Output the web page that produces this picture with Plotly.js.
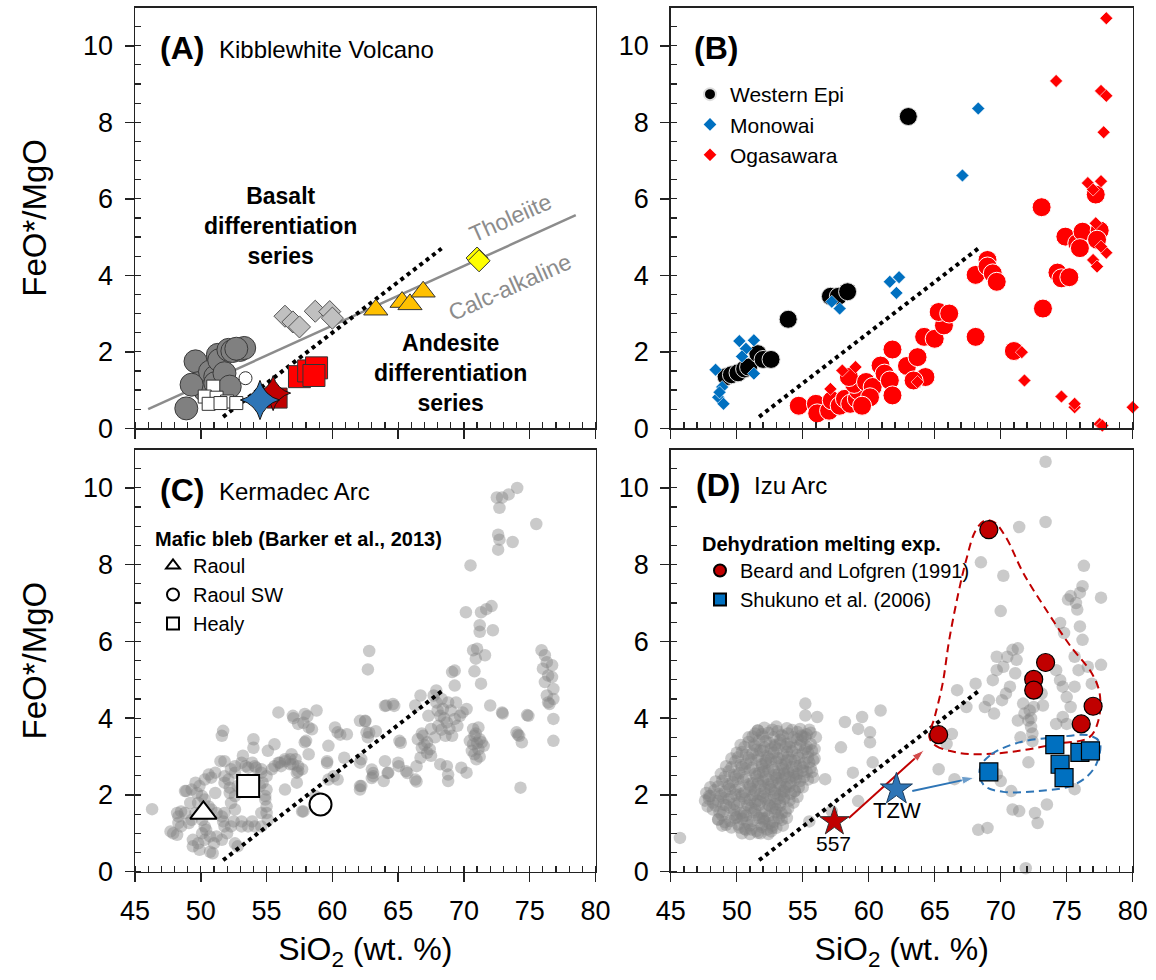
<!DOCTYPE html>
<html><head><meta charset="utf-8">
<script src="https://cdn.plot.ly/plotly-3.0.1.min.js"></script>
<style>body{margin:0;background:#fff}</style>
</head><body><div id="chart" style="width:1156px;height:980px"></div>
<script>
// ---------------- DATA ----------------
const xRange = [45, 80];
const yRange = [0, 11];
const xTitle = 'SiO<sub>2</sub> (wt. %)';
const yTitle = 'FeO*/MgO';

// Tholeiite / calc-alkaline boundary (panel A)
const tholX = [46.0, 78.5];
const tholY = [0.50, 5.57];
// dotted reference line (all panels)
const dotX = [51.7, 68.3];
const dotY = [0.30, 4.70];

// Panel A: Kibblewhite
const kibGrayCircles = [[48.9,0.52],[49.6,1.75],[49.8,1.18],[50.3,1.0],[50.7,1.48],[49.3,1.14],[51.1,1.35],[51.1,1.18],[51.3,1.92],[51.4,1.78],[51.8,1.44],[52.2,1.09],[52.1,2.05],[52.4,2.02],[53.0,2.05],[53.3,2.1],[52.7,2.08]];
const kibGrayDiamonds = [[56.4,2.93],[57.0,2.78],[57.5,2.65],[58.7,3.06],[59.8,3.05],[60.0,2.88]];
const kibTriangles = [[63.3,3.10],[65.3,3.30],[65.9,3.24],[66.9,3.57]];
const kibYellow = [[71.0,4.45],[71.15,4.38]];
const kibRedSquares = [[57.5,1.35],[58.2,1.5],[58.8,1.58],[58.6,1.38]];
const kibDarkRedSquare = [[55.8,0.79]];
const kibWhiteSquares = [[50.95,1.09],[50.3,0.83],[51.2,0.8],[52.0,0.7],[52.7,0.66],[50.6,0.64],[51.5,0.66]];
const kibOpenCircle = [[53.4,1.31]];
const kibRedStar = [[55.5,0.92]];
const kibBlueStar = [[54.5,0.74]];

// Panel B
const westernEpi = [[49.2,1.35],[49.6,1.4],[50.1,1.45],[50.6,1.55],[50.9,1.6],[51.6,1.95],[52.0,1.8],[52.6,1.8],[53.9,2.85],[57.1,3.45],[57.7,3.45],[58.4,3.57],[63.0,8.15]];
const monowai = [[48.4,1.53],[48.9,1.08],[48.6,0.81],[49.0,0.64],[48.7,0.94],[50.2,2.28],[51.3,2.30],[50.7,2.08],[50.4,1.88],[51.3,1.43],[57.2,3.31],[57.8,3.13],[61.6,3.83],[62.3,3.95],[62.1,3.54],[67.1,6.61],[68.3,8.36]];
const ogaCircles = [[54.7,0.59],[56.0,0.64],[56.1,0.39],[57.0,0.46],[57.2,0.73],[57.8,0.59],[58.2,0.77],[58.6,0.64],[59.1,0.77],[59.2,0.99],[58.9,1.16],[58.5,1.34],[59.8,1.21],[60.3,1.08],[60.9,1.64],[61.2,1.43],[61.6,1.25],[61.8,0.86],[61.8,2.06],[60.1,0.81],[59.5,0.59],[62.9,1.63],[63.7,1.86],[64.3,1.34],[63.4,1.25],[64.2,2.39],[65.0,2.34],[65.7,2.69],[65.3,3.04],[66.1,3.0],[68.1,2.39],[68.1,4.01],[69.0,4.40],[69.0,4.23],[69.4,4.05],[69.7,3.83],[71.0,2.02],[73.1,5.78],[73.2,3.13],[74.3,4.07],[74.6,3.92],[75.2,3.95],[74.9,5.01],[75.8,4.84],[76.2,5.14],[76.0,4.71],[77.2,6.11],[77.5,5.17],[77.3,4.93]];
const ogaDiamonds = [[78.0,10.72],[74.2,9.08],[77.6,8.82],[78.0,8.69],[77.8,7.74],[76.6,6.41],[77.6,6.46],[77.0,6.24],[77.2,5.36],[77.0,4.40],[77.3,4.23],[78.0,4.59],[77.6,4.75],[71.6,1.99],[71.8,1.25],[74.6,0.83],[75.6,0.55],[75.6,0.64],[77.5,0.11],[77.7,0.07],[80.0,0.55],[57.1,1.03],[58.0,1.51],[59.0,1.60],[63.7,1.21]];

// Panel C: Kermadec arc
const kermadecGray = [[46.3,1.63],[47.9,1.0],[47.7,1.05],[48.2,0.96],[48.5,1.57],[48.3,1.27],[48.9,2.1],[49.3,2.14],[49.7,2.05],[49.9,2.23],[49.2,1.79],[49.4,0.83],[50.1,1.0],[50.4,1.09],[50.7,0.52],[51.0,0.74],[51.2,0.92],[50.6,2.53],[51.1,2.58],[51.5,2.88],[51.7,3.67],[51.6,3.54],[51.8,2.88],[52.1,2.40],[52.2,2.19],[52.3,1.79],[51.8,1.53],[51.7,1.31],[52.5,1.31],[52.8,0.66],[52.6,1.62],[52.6,2.58],[53.2,3.02],[53.6,2.71],[54.0,3.45],[54.0,3.23],[54.1,2.75],[54.6,2.67],[54.7,2.32],[54.9,1.97],[55.0,1.70],[54.6,1.53],[53.9,1.31],[53.1,1.31],[55.6,3.32],[55.1,3.15],[55.9,2.84],[55.9,4.15],[56.1,2.75],[56.4,2.88],[56.8,2.80],[57.2,2.93],[57.4,2.62],[56.9,3.06],[56.4,2.14],[57.3,2.32],[57.0,4.06],[57.4,3.85],[57.9,4.11],[58.2,3.76],[58.8,4.2],[57.9,3.37],[58.0,3.41],[58.2,3.06],[57.7,1.57],[58.7,1.97],[59.7,3.28],[59.6,2.88],[60.2,3.76],[60.4,3.63],[61.1,3.58],[60.9,2.97],[60.1,2.49],[62.1,3.93],[62.2,2.93],[62.1,2.23],[62.8,5.75],[62.7,5.27],
[48.8,2.10],[49.6,2.32],[50.3,2.40],[50.8,2.45],[51.1,2.05],[51.8,2.49],[52.3,2.67],[52.6,2.75],[53.1,2.84],[53.4,2.75],[53.9,2.84],[54.2,2.71],[54.6,2.58],[55.0,2.49],[55.4,2.67],[55.6,2.75],[56.0,2.84],[56.4,2.93],[56.8,2.93],[57.0,2.80],[57.4,2.75],[57.7,2.67],[57.3,2.58],[51.8,2.32],[52.2,2.05],[52.6,1.97],[52.8,2.23],[53.4,2.23],[53.7,2.32],[54.1,2.40],[54.5,2.23],[55.0,2.14],[54.9,1.88],[55.0,1.53],[55.1,1.35],[54.6,1.18],[54.1,1.18],[53.6,1.18],[53.1,1.18],[52.3,1.18],[51.8,1.18],[51.6,1.44],[51.2,1.53],[50.8,1.62],[50.6,1.70],[50.3,1.88],[50.1,1.97],[49.8,1.79],[49.6,1.53],[49.3,1.35],[49.1,1.27],[48.5,1.18],[48.3,1.44],[48.2,1.53],[48.8,1.53],[50.1,1.35],[50.3,1.18],[50.7,0.92],[50.3,0.83],[49.8,0.74],[49.4,0.66],[49.9,0.57],[50.9,0.48],[51.6,0.83],[52.6,0.74],[52.0,1.0],
[57.05,4.0],[58.1,4.05],[57.8,3.88],[58.45,3.71],[60.6,3.57],[64.0,4.32],[64.7,4.32],[62.5,3.92],[63.3,3.66],[62.8,3.62],[65.2,3.36],[64.0,2.88],[65.05,2.75],[63.1,2.57],[62.1,2.14],[63.0,2.44],[64.2,2.57],[65.7,2.57],[66.4,2.35],[60.4,2.4],[59.6,2.83],[59.7,2.4],[57.8,1.57],
[72.5,9.75],[72.9,9.75],[72.7,9.48],[73.4,9.83],[74.05,10.0],[75.5,9.06],[72.6,8.78],[72.7,8.65],[72.6,8.39],[73.7,8.59],[70.5,7.98],[70.15,6.76],[71.3,6.76],[71.7,6.84],[72.1,6.92],[71.2,6.42],[71.2,6.25],[72.2,6.29],[70.7,5.77],[71.0,5.81],[71.6,5.64],[70.9,5.55],[69.3,5.24],[69.1,5.20],[70.8,5.22],[69.3,4.85],[71.3,4.90],[72.0,4.33],[72.9,4.15],[72.95,4.12],[74.8,4.08],[74.9,4.06],[74.0,3.63],[74.1,3.57],[74.2,3.54],[74.4,3.37],[74.3,2.19],[68.2,2.80],[68.7,2.75],[68.8,2.36],[68.8,2.53],[69.8,2.71],[70.2,2.58],[66.4,2.75],[66.7,2.97],[67.9,4.72],[66.7,4.59],[66.3,4.33],[64.6,4.37],[64.1,4.33],[65.1,3.41],[65.0,2.84],[65.6,2.62],[66.3,2.40],[64.25,2.58],[63.9,2.36],[63.1,2.49],[63.0,2.66],[62.5,3.93],[62.6,3.63],[62.7,3.50],[62.1,2.84],[62.2,2.23],
[66.5,3.45],[66.9,3.54],[67.2,3.37],[67.4,3.19],[67.2,3.10],[66.8,3.23],[67.5,3.02],[67.9,4.41],[68.3,4.50],[68.4,4.24],[68.2,4.06],[68.7,3.89],[68.9,3.72],[69.3,3.98],[69.7,4.06],[69.9,4.15],[70.2,4.24],[69.4,4.41],[68.8,4.41],[68.05,3.80],[68.6,3.54],[69.1,3.54],[67.7,4.59],[67.3,4.06],[67.5,3.72],[68.0,4.2],[68.5,4.0],[69.0,4.2],[68.3,3.7],[67.8,3.5],[69.5,3.8],[67.0,3.3],[66.8,3.6],
[70.7,3.72],[71.1,3.76],[70.8,3.54],[71.2,3.45],[70.7,3.32],[71.1,3.19],[71.35,3.37],[70.8,3.06],[70.95,2.93],[71.5,3.28],[70.45,3.41],[70.9,3.6],[71.0,3.35],[70.6,3.15],[71.2,3.0],
[75.9,5.77],[76.15,5.64],[76.3,5.46],[76.7,5.38],[76.0,5.29],[76.4,5.11],[76.7,5.07],[76.15,4.94],[76.8,4.76],[76.3,4.59],[76.4,4.41],[76.8,4.50],[76.5,4.37],[76.8,3.98],[76.8,3.41]];
const raoul = [[50.2,1.53]];
const raoulSW = [[59.1,1.75]];
const healy = [[53.6,2.23]];

// Panel D: Izu arc (scattered samples)
const izuGray = [[45.7,0.88],[47.9,1.97],[48.6,1.36],[49.0,1.75],[49.9,2.01],[49.9,1.40],[50.7,1.09],[51.6,1.01],[51.6,3.68],[52.1,1.31],[52.7,1.14],[53.5,2.10],[54.4,2.10],[55.2,4.38],[55.2,4.07],[56.1,4.03],[55.2,3.50],[57.9,3.24],[58.2,3.90],[59.2,3.72],[60.1,3.63],[59.5,4.03],[60.9,4.20],[60.1,3.37],[55.8,2.45],[56.7,2.41],[58.8,2.58],[60.3,2.85],[59.2,1.84],[55.5,1.31],[57.2,1.58],[65.9,3.33],[65.3,2.67],[66.5,2.41],[66.3,3.59],[66.7,4.73],[67.4,4.29],[68.1,4.90],[68.5,8.06],[70.2,7.71],[70.0,6.79],[69.7,5.60],[69.7,5.25],[69.4,4.99],[69.1,4.47],[68.8,4.29],[69.5,4.12],[70.1,4.47],[70.4,4.64],[70.7,4.82],[71.1,5.17],[71.3,5.82],[71.4,8.98],[73.4,10.68],[73.4,9.11],[71.9,0.09],[72.1,2.85],[71.5,3.50],[71.3,3.94],[70.9,1.62],[71.4,1.58],[68.3,1.09],[69.0,1.14],[72.6,1.53],[72.8,1.27],[73.5,1.75],[71.7,4.38],[71.8,4.12],[72.1,3.94],[72.3,3.77],[72.5,4.29],[73.1,4.64],[73.2,4.33],[74.2,5.25],[74.5,4.99],[74.7,4.82],[75.0,4.55],[75.3,4.29],[74.7,4.03],[74.2,3.85],[75.6,4.82],[75.9,5.25],[74.5,6.48],[74.8,6.22],[75.1,7.09],[75.3,7.18],[75.7,7.00],[75.8,6.83],[76.0,7.27],[76.2,7.44],[76.3,7.97],[76.0,6.39],[76.2,6.04],[75.6,5.60],[76.6,5.34],[77.6,7.14],[77.6,5.39],[76.9,4.90],[75.6,2.15],[75.0,3.85],[70.0,2.36],[69.7,2.54],[70.8,2.10],[70.2,5.34],[70.5,5.60],[70.9,5.78],[71.2,5.52],[72.3,4.0],[72.4,3.6],[72.2,4.2],[72.4,3.4]];
// Panel D: dense basalt-andesite cluster (read as best as possible)
const izuCluster = [[51.6,3.68],[52.4,3.62],[53.1,3.66],[53.9,3.6],[54.6,3.64],[55.3,3.58],[50.9,3.38],[51.7,3.42],[52.5,3.35],[53.3,3.44],[54.1,3.37],[54.9,3.41],[55.6,3.33],[50.4,3.12],[51.2,3.08],[52.0,3.15],[52.8,3.1],[53.5,3.05],[54.2,3.14],[55.0,3.09],[55.7,3.16],[49.9,2.88],[50.7,2.82],[51.5,2.9],[52.2,2.84],[53.0,2.87],[53.7,2.81],[54.4,2.89],[55.1,2.83],[55.8,2.9],[49.4,2.62],[50.2,2.57],[51.0,2.64],[51.7,2.58],[52.4,2.63],[53.2,2.56],[53.9,2.61],[54.6,2.55],[55.3,2.6],[48.9,2.37],[49.7,2.33],[50.5,2.38],[51.2,2.31],[52.0,2.36],[52.7,2.34],[53.4,2.39],[54.1,2.32],[54.8,2.36],[48.3,2.12],[49.1,2.08],[49.9,2.13],[50.6,2.07],[51.4,2.11],[52.1,2.06],[52.9,2.12],[53.6,2.09],[54.4,2.1],[47.9,1.9],[48.6,1.84],[49.4,1.88],[50.2,1.82],[51.0,1.87],[51.8,1.83],[52.5,1.86],[53.3,1.8],[54.0,1.85],[48.2,1.62],[49.0,1.57],[49.8,1.6],[50.6,1.55],[51.4,1.61],[52.2,1.58],[53.0,1.63],[53.7,1.56],[48.6,1.36],[49.5,1.32],[50.4,1.38],[51.2,1.33],[52.0,1.37],[52.8,1.3],[53.4,1.35],[50.6,1.12],[51.5,1.06],[52.3,1.1],[53.0,1.14],
[51.2,3.52],[52.0,3.52],[52.8,3.5],[53.5,3.53],[54.3,3.5],[55.0,3.52],[50.6,3.25],[51.4,3.27],[52.1,3.24],[52.9,3.26],[53.7,3.25],[54.5,3.23],[55.3,3.26],[50.1,2.98],[50.9,2.97],[51.6,3.0],[52.4,2.98],[53.2,2.96],[53.9,2.99],[54.7,2.97],[55.4,2.98],[49.6,2.72],[50.4,2.73],[51.2,2.71],[51.9,2.74],[52.7,2.72],[53.5,2.7],[54.2,2.73],[55.0,2.72],[55.6,2.7],[49.1,2.47],[49.9,2.48],[50.7,2.46],[51.5,2.49],[52.2,2.47],[53.0,2.45],[53.7,2.48],[54.5,2.46],[55.1,2.47],[48.6,2.22],[49.4,2.23],[50.2,2.21],[51.0,2.22],[51.8,2.24],[52.5,2.21],[53.3,2.23],[54.0,2.22],[54.7,2.2],[48.0,1.97],[48.8,1.98],[49.6,1.96],[50.4,1.97],[51.2,1.99],[52.0,1.96],[52.8,1.97],[53.6,1.95],[48.4,1.72],[49.2,1.73],[50.0,1.71],[50.9,1.72],[51.7,1.74],[52.5,1.71],[53.3,1.72],[48.9,1.47],[49.8,1.48],[50.7,1.46],[51.5,1.47],[52.4,1.45],[53.1,1.48],[49.2,1.22],[50.1,1.23],[51.0,1.21],[51.9,1.22],[52.7,1.2],
[51.9,3.58],[52.7,3.7],[53.4,3.56],[54.2,3.69],[54.9,3.55],[55.6,3.62],[51.3,3.31],[52.2,3.4],[52.9,3.3],[53.8,3.33],[54.6,3.45],[55.2,3.2],[50.7,3.05],[51.5,3.18],[52.3,3.02],[53.1,3.2],[53.8,3.12],[54.6,3.04],[55.4,3.11],[50.3,2.78],[51.1,2.92],[51.9,2.79],[52.6,2.93],[53.4,2.78],[54.1,2.92],[54.8,2.77],[55.5,2.85],[49.8,2.52],[50.6,2.68],[51.4,2.55],[52.1,2.68],[52.9,2.52],[53.6,2.66],[54.3,2.5],[55.0,2.63],[49.3,2.28],[50.1,2.42],[50.9,2.27],[51.6,2.4],[52.4,2.27],[53.1,2.43],[53.8,2.27],[54.5,2.41],[48.7,2.03],[49.5,2.16],[50.3,2.02],[51.1,2.16],[51.8,2.02],[52.6,2.15],[53.3,2.0],[54.1,2.03],[48.2,1.8],[49.0,1.92],[49.8,1.77],[50.6,1.91],[51.4,1.78],[52.2,1.9],[52.9,1.76],[53.6,1.9],[48.7,1.55],[49.5,1.67],[50.3,1.52],[51.1,1.66],[51.9,1.52],[52.7,1.66],[53.4,1.52],[49.1,1.29],[50.0,1.42],[50.8,1.28],[51.7,1.4],[52.5,1.26],[53.2,1.4],[50.2,1.15],[51.1,1.1],[51.9,1.16],[52.6,1.05],
[50.3,3.3],[50.9,3.5],[51.4,3.6],[52.1,3.75],[53.0,3.78],[53.8,3.74],[54.8,3.72],[55.5,3.7],[56.0,3.5],[55.9,3.2],[55.9,2.95],[50.0,3.1],[49.6,2.95],[49.2,2.75],[48.8,2.55],[48.4,2.35],[48.0,2.2],[47.7,2.05],[47.6,1.85],[47.8,1.7],[53.9,1.65],[54.3,1.8],[54.6,1.95],[55.0,2.2],[55.4,2.4],[55.7,2.6],[51.8,3.15],[52.6,3.2],[53.3,3.35],[54.0,3.25],[54.8,3.3],[52.2,2.9],[53.1,2.95],[53.8,2.9],[54.5,2.75],[52.0,2.6],[52.8,2.65],[53.6,2.55],[54.3,2.6],[51.6,2.3],[52.4,2.4],[53.2,2.3],[54.0,2.45],[51.3,2.0],[52.1,2.15],[52.9,2.05],[53.7,2.2],[50.8,1.75],[51.6,1.85],[52.4,1.75],[53.1,1.9],[50.5,1.45],[51.3,1.55],[52.1,1.4],[52.9,1.55],[50.4,1.0],[51.0,0.98],[51.8,1.0],[52.4,0.98],[49.6,1.15],[48.9,1.2],[53.5,1.2],[53.8,1.4]];
const beardLofgren = [[69.1,8.91],[65.3,3.57],[72.5,5.01],[72.5,4.73],[73.4,5.45],[76.1,3.85],[77.0,4.31]];
const shukuno = [[69.1,2.60],[74.1,3.31],[74.5,2.80],[74.8,2.45],[76.0,3.11],[76.8,3.15]];
const star557 = [[57.4,1.31]];
const starTZW = [[62.1,2.15]];
const arrowRed = [[58.5,1.40],[64.2,3.17]];
const arrowBlue = [[63.3,2.10],[68.0,2.45]];
const envRed = [[64.6,3.50],[65.1,3.28],[66.6,3.11],[68.5,3.06],[71.4,3.15],[74.2,3.33],[76.7,3.50],[77.4,3.94],[77.5,4.64],[76.9,5.17],[75.3,5.87],[73.6,6.74],[71.7,7.79],[70.4,8.71],[69.5,9.11],[68.8,9.15],[68.1,8.89],[67.4,8.14],[66.8,7.27],[66.1,6.04],[65.6,4.90],[65.0,4.03],[64.6,3.50]];
const envBlue = [[68.5,2.76],[69.3,3.06],[71.4,3.37],[74.2,3.50],[76.7,3.55],[77.5,3.37],[77.3,2.85],[76.6,2.50],[75.3,2.23],[72.8,2.10],[70.2,2.08],[68.8,2.23],[68.4,2.50],[68.5,2.76]];

// ---------------- HELPERS ----------------
const FONT = 'Liberation Sans, Arial, sans-serif';
const W = 1156, H = 980;
const px = v => v / W;
const py = v => 1 - v / H;
const X = a => a.map(p => p[0]);
const Y = a => a.map(p => p[1]);

function pts(arr, ax, opts) {
  return Object.assign({
    type: 'scatter', mode: 'markers', x: X(arr), y: Y(arr),
    xaxis: ax[0], yaxis: ax[1], showlegend: false, cliponaxis: false, hoverinfo: 'skip'
  }, opts);
}
function line(xs, ys, ax, lineOpts, extra) {
  return Object.assign({type: 'scatter', mode: 'lines', x: xs, y: ys, xaxis: ax[0], yaxis: ax[1],
    showlegend: false, hoverinfo: 'skip', line: lineOpts}, extra || {});
}
const A = ['x', 'y'], B = ['x2', 'y2'], C = ['x3', 'y3'], D = ['x4', 'y4'];
const dotLine = {color: '#000', width: 4, dash: '4px,4px'};
const grayPt = {size: 12.5, color: 'rgba(128,128,128,0.42)', line: {width: 0}};

const traces = [
  // Panel A
  line(tholX, tholY, A, {color: '#8c8c8c', width: 2.5}),
  line(dotX, dotY, A, dotLine),
  pts(kibGrayCircles, A, {marker: {symbol: 'circle', size: 23, color: '#808080', line: {color: '#3a3a3a', width: 1}}}),
  pts(kibGrayDiamonds, A, {marker: {symbol: 'diamond', size: 17, color: '#c0c0c0', line: {color: '#555', width: 1}}}),
  pts(kibTriangles, A, {marker: {symbol: 'triangle-up', size: 21, color: '#FFC000', line: {color: '#333', width: 1}}}),
  pts(kibYellow, A, {marker: {symbol: 'diamond', size: 17, color: '#FFFF00', line: {color: '#333', width: 1}}}),
  pts(kibRedSquares, A, {marker: {symbol: 'square', size: 22, color: '#FF0000', line: {color: '#333', width: 1}}}),
  pts(kibDarkRedSquare, A, {marker: {symbol: 'square', size: 20, color: '#C00000', line: {color: '#333', width: 1}}}),
  pts(kibWhiteSquares, A, {marker: {symbol: 'square', size: 13, color: '#fff', line: {color: '#333', width: 1}}}),
  pts(kibOpenCircle, A, {marker: {symbol: 'circle', size: 13, color: '#fff', line: {color: '#333', width: 1}}}),
  pts(kibRedStar, A, {marker: {symbol: 'star-diamond', size: 25, color: '#C00000', line: {color: '#111', width: 1}}}),
  pts(kibBlueStar, A, {marker: {symbol: 'star-diamond', size: 28, color: '#2E75B6', line: {color: '#111', width: 1}}}),
  // Panel B
  line(dotX, dotY, B, dotLine),
  pts(ogaCircles, B, {marker: {symbol: 'circle', size: 19, color: '#FF0000', line: {color: '#fff', width: 1}}}),
  pts(westernEpi, B, {name: 'Western Epi', showlegend: true, legend: 'legend', marker: {symbol: 'circle', size: 18, color: '#000', line: {color: '#ddd', width: 1}}}),
  pts(monowai, B, {name: 'Monowai', showlegend: true, legend: 'legend', marker: {symbol: 'diamond', size: 10, color: '#0070C0', line: {color: '#fff', width: 0.6}}}),
  pts(ogaDiamonds, B, {name: 'Ogasawara', showlegend: true, legend: 'legend', marker: {symbol: 'diamond', size: 10, color: '#FF0000', line: {color: '#fff', width: 0.6}}}),
  // Panel C
  pts(kermadecGray, C, {marker: grayPt}),
  line(dotX, dotY, C, dotLine),
  pts(raoul, C, {name: 'Raoul', showlegend: true, legend: 'legend2', marker: {symbol: 'triangle-up', size: 23, color: '#fff', line: {color: '#000', width: 2}}}),
  pts(raoulSW, C, {name: 'Raoul SW', showlegend: true, legend: 'legend2', marker: {symbol: 'circle', size: 22, color: '#fff', line: {color: '#000', width: 2}}}),
  pts(healy, C, {name: 'Healy', showlegend: true, legend: 'legend2', marker: {symbol: 'square', size: 22, color: '#fff', line: {color: '#000', width: 2}}}),
  // Panel D
  pts(izuCluster, D, {marker: grayPt}),
  pts(izuGray, D, {marker: grayPt}),
  line(dotX, dotY, D, dotLine),
  line(X(envRed), Y(envRed), D, {color: '#C00000', width: 2, dash: '8px,5px', shape: 'spline', smoothing: 1}),
  line(X(envBlue), Y(envBlue), D, {color: '#2E75B6', width: 2, dash: '8px,5px', shape: 'spline', smoothing: 1}),
  Object.assign(line(X(arrowRed), Y(arrowRed), D, {color: '#C00000', width: 2}), {mode: 'lines+markers', marker: {symbol: 'arrow', size: [0, 13], angleref: 'previous', color: '#C00000'}}),
  Object.assign(line(X(arrowBlue), Y(arrowBlue), D, {color: '#2E75B6', width: 2}), {mode: 'lines+markers', marker: {symbol: 'arrow', size: [0, 13], angleref: 'previous', color: '#2E75B6'}}),
  pts(star557, D, {marker: {symbol: 'star', size: 22, color: '#C00000', line: {color: '#333', width: 1}}}),
  pts(starTZW, D, {marker: {symbol: 'star', size: 24, color: '#2E75B6', line: {color: '#1a3a5c', width: 1}}}),
  pts(beardLofgren, D, {name: 'Beard and Lofgren (1991)', showlegend: true, legend: 'legend3', marker: {symbol: 'circle', size: 18, color: '#C00000', line: {color: '#000', width: 1.2}}}),
  pts(shukuno, D, {name: 'Shukuno et al. (2006)', showlegend: true, legend: 'legend3', marker: {symbol: 'square', size: 18, color: '#0070C0', line: {color: '#000', width: 1.2}}})
];

// ---------------- AXES ----------------
const dom = {
  A: {x: [px(135), px(595.5)], y: [py(428.3), py(7.5)]},
  B: {x: [px(670.7), px(1132.7)], y: [py(428.3), py(7.5)]},
  C: {x: [px(135), px(595.5)], y: [py(871.7), py(449.5)]},
  D: {x: [px(670.7), px(1132.7)], y: [py(871.7), py(449.5)]}
};
const axCol = '#222';
function xAx(domain, anchor, labels, title) {
  const a = {domain, anchor, range: xRange, tick0: 45, dtick: 5, ticks: 'outside', ticklen: 9, tickwidth: 1.5, tickcolor: axCol,
    showline: true, linecolor: axCol, linewidth: 1.5, mirror: true, showgrid: false, zeroline: false,
    showticklabels: labels, tickfont: {family: FONT, size: 27, color: '#000'}, ticklabelstandoff: 5,
    minor: {dtick: 1, tick0: 45, ticks: 'inside', ticklen: 6, tickwidth: 1.2, tickcolor: axCol, showgrid: false}, fixedrange: true};
  if (title) a.title = {text: title, font: {family: FONT, size: 32, color: '#000'}, standoff: 13};
  return a;
}
function yAx(domain, anchor, title) {
  const a = {domain, anchor, range: yRange, tick0: 0, dtick: 2, ticks: 'outside', ticklen: 9, tickwidth: 1.5, tickcolor: axCol,
    showline: true, linecolor: axCol, linewidth: 1.5, mirror: true, showgrid: false, zeroline: false,
    tickfont: {family: FONT, size: 27, color: '#000'}, ticklabelstandoff: 6,
    minor: {dtick: 0.5, tick0: 0, ticks: 'inside', ticklen: 6, tickwidth: 1.2, tickcolor: axCol, showgrid: false}, fixedrange: true};
  if (title) a.title = {text: title, font: {family: FONT, size: 33, color: '#000'}, standoff: 26};
  return a;
}
function xOver(over, anchor) {
  return {overlaying: over, anchor, range: xRange, tick0: 45, dtick: 5, ticks: 'inside', ticklen: 8, tickwidth: 1.5, tickcolor: axCol,
    showticklabels: false, showline: false, showgrid: false, zeroline: false, fixedrange: true};
}
function yOver(over, anchor) {
  return {overlaying: over, anchor, range: yRange, tick0: 0, dtick: 2, ticks: 'inside', ticklen: 8, tickwidth: 1.5, tickcolor: axCol,
    showticklabels: false, showline: false, showgrid: false, zeroline: false, fixedrange: true};
}

// ---------------- ANNOTATIONS ----------------
function txt(text, x, y, size, opts) {
  return Object.assign({text, xref: 'paper', yref: 'paper', x: px(x), y: py(y), showarrow: false,
    xanchor: 'left', yanchor: 'middle', font: {family: FONT, size, color: '#000'}}, opts || {});
}
const annotations = [
  txt('<b>(A)</b>', 158, 48, 32), txt('Kibblewhite Volcano', 217, 49, 24),
  txt('<b>(B)</b>', 692, 48, 32),
  txt('<b>(C)</b>', 158, 490, 32), txt('Kermadec Arc', 217, 491, 24),
  txt('<b>(D)</b>', 694, 485, 32), txt('Izu Arc', 752, 486, 24),
  txt('<b>Basalt<br>differentiation<br>series</b>', 280, 226, 23, {xanchor: 'center', align: 'center'}),
  txt('<b>Andesite<br>differentiation<br>series</b>', 450, 373, 23, {xanchor: 'center', align: 'center'}),
  txt('Tholeiite', 510, 218, 23, {xanchor: 'center', textangle: -24, font: {family: FONT, size: 23, color: '#8c8c8c'}}),
  txt('Calc-alkaline', 510, 287, 23, {xanchor: 'center', textangle: -24, font: {family: FONT, size: 23, color: '#8c8c8c'}}),
  txt('557', 833, 843, 21, {xanchor: 'center'}),
  txt('TZW', 897, 810, 22, {xanchor: 'center'})
];

const legBase = {bgcolor: 'rgba(0,0,0,0)', borderwidth: 0, xanchor: 'left', yanchor: 'top', itemsizing: 'constant',
  itemclick: false, itemdoubleclick: false, tracegroupgap: 0};
const layout = {
  width: W, height: H, margin: {l: 0, r: 0, t: 0, b: 0}, paper_bgcolor: '#fff', plot_bgcolor: 'rgba(0,0,0,0)',
  font: {family: FONT, color: '#000'}, showlegend: true, hovermode: false,
  xaxis: xAx(dom.A.x, 'y', false), yaxis: yAx(dom.A.y, 'x', yTitle),
  xaxis2: xAx(dom.B.x, 'y2', false), yaxis2: yAx(dom.B.y, 'x2'),
  xaxis3: xAx(dom.C.x, 'y3', true, xTitle), yaxis3: yAx(dom.C.y, 'x3', yTitle),
  xaxis4: xAx(dom.D.x, 'y4', true, xTitle), yaxis4: yAx(dom.D.y, 'x4'),
  xaxis5: xOver('x', 'y'), yaxis5: yOver('y', 'x'),
  xaxis6: xOver('x2', 'y2'), yaxis6: yOver('y2', 'x2'),
  xaxis7: xOver('x3', 'y3'), yaxis7: yOver('y3', 'x3'),
  xaxis8: xOver('x4', 'y4'), yaxis8: yOver('y4', 'x4'),
  legend: Object.assign({}, legBase, {x: px(690), y: py(74), font: {family: FONT, size: 21}}),
  legend2: Object.assign({}, legBase, {x: px(153), y: py(520), font: {family: FONT, size: 20},
    title: {text: '<b>Mafic bleb (Barker et al., 2013)</b>', font: {family: FONT, size: 20}}}),
  legend3: Object.assign({}, legBase, {x: px(700), y: py(525), font: {family: FONT, size: 20},
    title: {text: '<b>Dehydration melting exp.</b>', font: {family: FONT, size: 20}}}),
  annotations
};

Plotly.newPlot('chart', traces, layout, {staticPlot: true, displayModeBar: false});
</script>
</body></html>
